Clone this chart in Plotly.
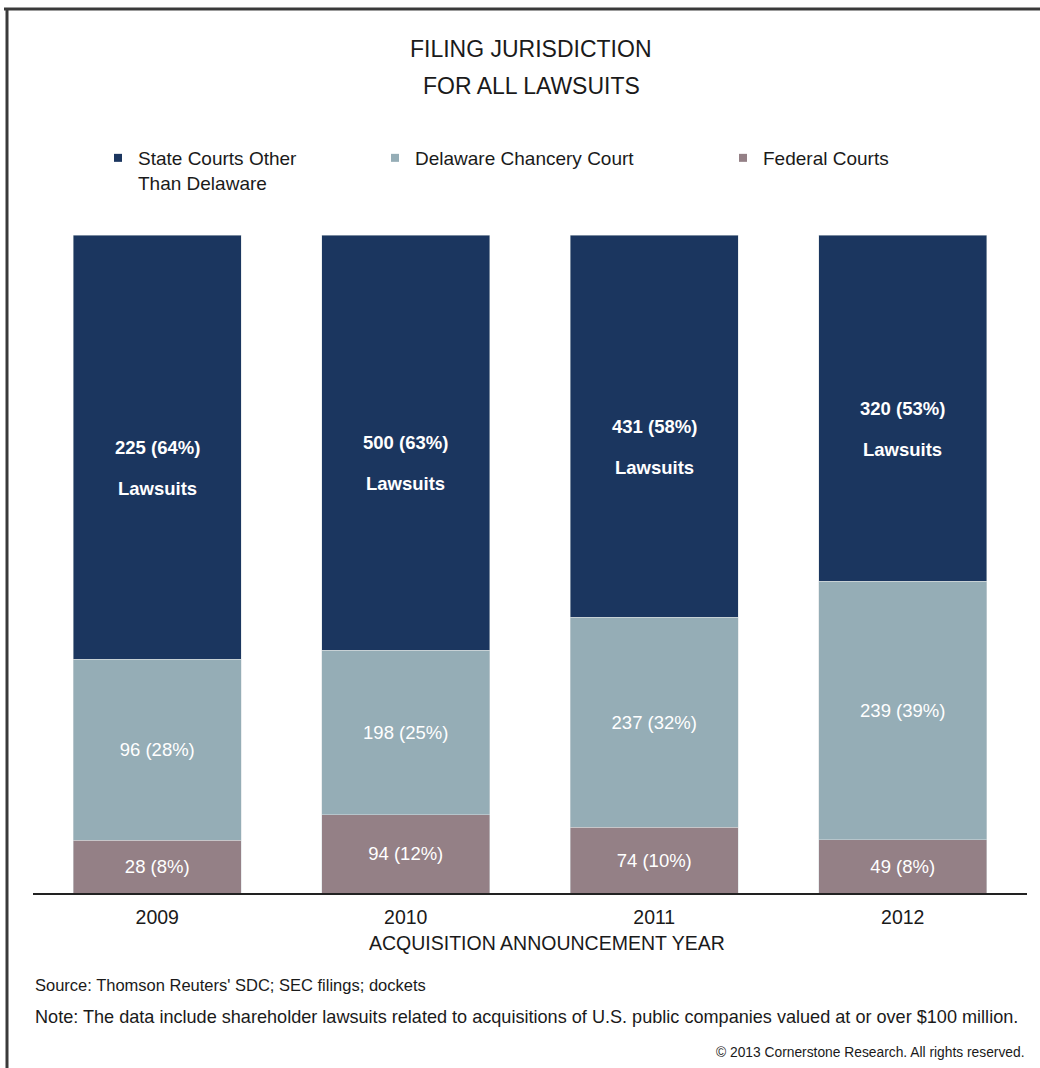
import plotly.graph_objects as go

years = ["2009", "2010", "2011", "2012"]
state_other = [225, 500, 431, 320]
delaware = [96, 198, 237, 239]
federal = [28, 94, 74, 49]
state_pct = ["64%", "63%", "58%", "53%"]
delaware_pct = ["28%", "25%", "32%", "39%"]
federal_pct = ["8%", "12%", "10%", "8%"]

series_names = ["State Courts Other<br>Than Delaware", "Delaware Chancery Court", "Federal Courts"]
colors = ["#1b365f", "#95adb6", "#948086"]

W, H = 1040, 1068
ML, MR, MT, MB = 33, 13, 235, 175
PW, PH = W - ML - MR, H - MT - MB

def px_x(p):
    return (p - ML) / PW

def px_y(p):
    return (H - MB - p) / PH

totals = [a + b + c for a, b, c in zip(state_other, delaware, federal)]
fed_share = [f / t for f, t in zip(federal, totals)]
del_share = [d / t for d, t in zip(delaware, totals)]
st_share = [s / t for s, t in zip(state_other, totals)]

BASE = "Liberation Sans, Arial, sans-serif"
TXT = "#1a1a1a"
EDGE = dict(width=0.5, color="#d8dde0")
LBL = 18.5

fig = go.Figure()
fig.add_trace(go.Bar(
    x=years, y=fed_share, name="Federal Courts", marker=dict(color=colors[2], line=EDGE),
    text=[f"{v} ({p})" for v, p in zip(federal, federal_pct)], textposition="inside",
    insidetextanchor="middle", textangle=0, textfont=dict(family=BASE, size=LBL, color="white"),
    showlegend=False, constraintext="none"))
fig.add_trace(go.Bar(
    x=years, y=del_share, name="Delaware Chancery Court", marker=dict(color=colors[1], line=EDGE),
    text=[f"{v} ({p})" for v, p in zip(delaware, delaware_pct)], textposition="inside",
    insidetextanchor="middle", textangle=0, textfont=dict(family=BASE, size=LBL, color="white"),
    showlegend=False, constraintext="none"))
fig.add_trace(go.Bar(
    x=years, y=st_share, name="State Courts Other Than Delaware", marker=dict(color=colors[0], line=EDGE),
    showlegend=False))

# legend entries (small square markers) in three separate legends
for i, (nm, col) in enumerate(zip(series_names, colors)):
    fig.add_trace(go.Scatter(
        x=[None], y=[None], mode="markers", name=nm,
        marker=dict(symbol="square", size=8, color=col),
        legend="legend" if i == 0 else f"legend{i+1}", showlegend=True))

annotations = []
for i, (v, p, f, d, s) in enumerate(zip(state_other, state_pct, fed_share, del_share, st_share)):
    ymid = f + d + s / 2
    annotations.append(dict(x=i, y=ymid, xref="x", yref="y", text=f"<b>{v} ({p})</b>",
                            showarrow=False, font=dict(family=BASE, size=LBL, color="white"), yanchor="middle"))
    annotations.append(dict(x=i, y=ymid, xref="x", yref="y", text="<b>Lawsuits</b>", yshift=-41,
                            showarrow=False, font=dict(family=BASE, size=LBL, color="white"), yanchor="middle"))

annotations += [
    dict(text="FILING JURISDICTION", x=px_x(531), y=px_y(49), xref="paper", yref="paper",
         showarrow=False, font=dict(family=BASE, size=23, color=TXT), yanchor="middle"),
    dict(text="FOR ALL LAWSUITS", x=px_x(531), y=px_y(86), xref="paper", yref="paper",
         showarrow=False, font=dict(family=BASE, size=23, color=TXT), yanchor="middle"),
    dict(text="ACQUISITION ANNOUNCEMENT YEAR", x=px_x(547), y=px_y(943), xref="paper", yref="paper",
         showarrow=False, font=dict(family=BASE, size=19.5, color=TXT), yanchor="middle"),
    dict(text="Source: Thomson Reuters' SDC; SEC filings; dockets", x=px_x(33), y=px_y(985), xref="paper", yref="paper",
         showarrow=False, font=dict(family=BASE, size=16.5, color=TXT), xanchor="left", yanchor="middle"),
    dict(text="Note: The data include shareholder lawsuits related to acquisitions of U.S. public companies valued at or over $100 million.",
         x=px_x(33), y=px_y(1017), xref="paper", yref="paper",
         showarrow=False, font=dict(family=BASE, size=18.1, color=TXT), xanchor="left", yanchor="middle"),
    dict(text="© 2013 Cornerstone Research. All rights reserved.", x=px_x(1026), y=px_y(1052), xref="paper", yref="paper",
         showarrow=False, font=dict(family=BASE, size=13.8, color=TXT), xanchor="right", yanchor="middle"),
]

shapes = [
    dict(type="line", xref="paper", yref="paper", x0=px_x(4), x1=px_x(1040), y0=px_y(9), y1=px_y(9),
         line=dict(color="#3a3a3a", width=3)),
    dict(type="line", xref="paper", yref="paper", x0=px_x(7), x1=px_x(7), y0=px_y(9), y1=px_y(1068),
         line=dict(color="#3a3a3a", width=3)),
]

leg_common = dict(orientation="v", yanchor="top", xanchor="left", bgcolor="rgba(0,0,0,0)", valign="top",
                  font=dict(family=BASE, size=19, color=TXT), itemclick=False, itemdoubleclick=False)

fig.update_layout(
    width=W, height=H, margin=dict(l=ML, r=MR, t=MT, b=MB),
    paper_bgcolor="white", plot_bgcolor="white",
    barmode="stack", bargap=0.324,
    font=dict(family=BASE, color=TXT),
    xaxis=dict(type="category", showline=True, linecolor="#222222", linewidth=2, ticks="", showgrid=False,
               ticklabelstandoff=6,
               tickfont=dict(family=BASE, size=19.5, color=TXT), range=[-0.5, 3.5], fixedrange=True),
    yaxis=dict(visible=False, range=[0, 1], showgrid=False, fixedrange=True),
    legend=dict(x=px_x(98), y=px_y(139), **leg_common),
    legend2=dict(x=px_x(375), y=px_y(139), **leg_common),
    legend3=dict(x=px_x(723), y=px_y(139), **leg_common),
    annotations=annotations, shapes=shapes,
    showlegend=True,
)

fig.write_html("out.html", config={"displayModeBar": False},
               post_script="document.body.style.margin='0';document.body.style.overflow='hidden';")
